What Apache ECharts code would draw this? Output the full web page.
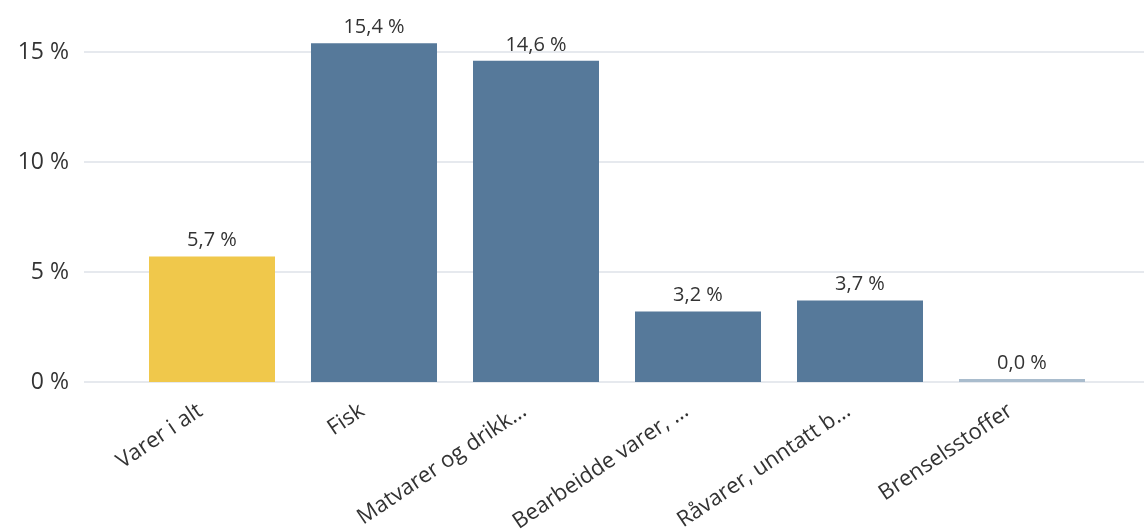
<!DOCTYPE html>
<html>
<head>
<meta charset="utf-8">
<script src="https://cdn.jsdelivr.net/npm/echarts@6/dist/echarts.min.js"></script>
<style>
 html, body { margin: 0; padding: 0; background: #fff; }
 #main { width: 1144px; height: 532px; }
</style>
</head>
<body>
<div id="main"></div>
<script>
 // kategorier og verdier (prosent)
 var kategorier = ['Varer i alt', 'Fisk', 'Matvarer og drikk...', 'Bearbeidde varer, ...', 'Råvarer, unntatt b...', 'Brenselsstoffer'];
 var verdier = [5.7, 15.4, 14.6, 3.2, 3.7, 0.04];
 var yTicks = [0, 5, 10, 15];

 var farger = ['#f0c84b', '#56799a', '#56799a', '#56799a', '#56799a', '#a9bccd'];

 var myChart = echarts.init(document.getElementById('main'));

 var option = {
  animation: false,
  textStyle: { fontFamily: 'Open Sans' },
  grid: [
   { left: 84, right: 0, top: 52, bottom: 150, outerBoundsMode: 'none' },
   { left: 131, right: 41, top: 52, bottom: 150, outerBoundsMode: 'none' }
  ],
  xAxis: [
   { type: 'value', gridIndex: 0, show: false, min: 0, max: 1 },
   {
    type: 'category',
    gridIndex: 1,
    data: kategorier,
    axisLine: { show: false },
    axisTick: { show: false },
    axisLabel: {
     rotate: 34,
     fontSize: 22,
     color: '#333',
     margin: 19,
     padding: [0, 14, 0, 0],
     interval: 0
    }
   }
  ],
  yAxis: [
   {
    type: 'value',
    gridIndex: 0,
    min: yTicks[0],
    max: yTicks[yTicks.length - 1],
    interval: 5,
    axisLine: { show: false },
    axisTick: { show: false },
    axisLabel: {
     fontSize: 23,
     color: '#333',
     margin: 15,
     formatter: '{value} %'
    },
    splitLine: { lineStyle: { color: '#e6e9ee', width: 2 } }
   },
   {
    type: 'value',
    gridIndex: 1,
    min: yTicks[0],
    max: yTicks[yTicks.length - 1],
    interval: 5,
    show: false,
    splitLine: { show: false }
   }
  ],
  series: [
   {
    type: 'bar',
    xAxisIndex: 1,
    yAxisIndex: 1,
    clip: false,
    barWidth: 126,
    barMinHeight: 3,
    data: verdier.map(function (v, i) {
     return { value: v, itemStyle: { color: farger[i] } };
    }),
    label: {
     show: true,
     position: 'top',
     distance: 6,
     fontSize: 20,
     color: '#333',
     formatter: function (p) {
      return p.value.toFixed(1).replace('.', ',') + ' %';
     }
    }
   }
  ]
 };

 myChart.setOption(option);
 window.onresize = function () {
  myChart.resize();
 };
</script>
</body>
</html>
